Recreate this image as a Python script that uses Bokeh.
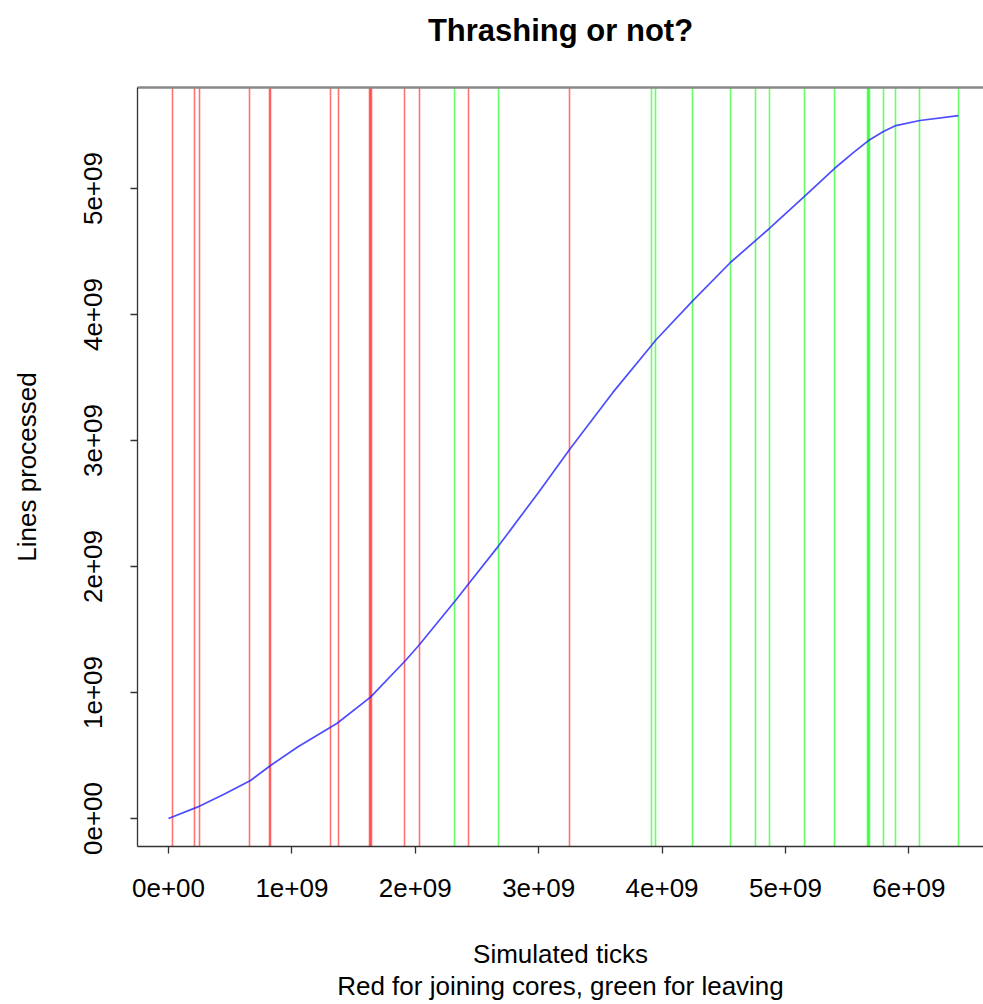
from bokeh.plotting import figure
from bokeh.models import Range1d, FixedTicker, LinearAxis
from bokeh.embed import file_html
from bokeh.resources import INLINE

# ---- data ----
curve_x = [0.0, 0.233e9, 0.45e9, 0.665e9, 0.827e9, 1.05e9, 1.313e9, 1.367e9, 1.637e9, 1.921e9,
           2.028e9, 2.326e9, 2.434e9, 2.672e9, 3.0e9, 3.252e9, 3.6e9, 3.914e9, 3.946e9, 4.250e9,
           4.554e9, 4.757e9, 4.870e9, 5.154e9, 5.397e9, 5.55e9, 5.673e9, 5.794e9, 5.895e9,
           6.090e9, 6.402e9]
curve_y = [0.0, 0.090e9, 0.192e9, 0.302e9, 0.421e9, 0.570e9, 0.725e9, 0.756e9, 0.963e9, 1.254e9,
           1.373e9, 1.730e9, 1.865e9, 2.160e9, 2.590e9, 2.930e9, 3.380e9, 3.754e9, 3.794e9, 4.111e9,
           4.413e9, 4.587e9, 4.683e9, 4.937e9, 5.159e9, 5.285e9, 5.381e9, 5.452e9, 5.500e9,
           5.540e9, 5.579e9]

join_x = [0.030e9, 0.213e9, 0.254e9, 0.660e9, 0.815e9, 0.830e9, 1.313e9, 1.380e9,
          1.630e9, 1.637e9, 1.645e9, 1.912e9, 2.036e9, 2.434e9, 3.252e9]
leave_x = [2.318e9, 2.672e9, 3.914e9, 3.946e9, 4.250e9, 4.554e9, 4.757e9, 4.870e9,
           5.154e9, 5.399e9, 5.665e9, 5.673e9, 5.681e9, 5.794e9, 5.895e9, 6.090e9, 6.404e9]

x_ticks = [0.0, 1e9, 2e9, 3e9, 4e9, 5e9, 6e9]
x_tick_labels = ["0e+00", "1e+09", "2e+09", "3e+09", "4e+09", "5e+09", "6e+09"]
y_ticks = [0.0, 1e9, 2e9, 3e9, 4e9, 5e9]
y_tick_labels = ["0e+00", "1e+09", "2e+09", "3e+09", "4e+09", "5e+09"]

title_text = "Thrashing or not?"
x_label = "Simulated ticks"
x_sub_label = "Red for joining cores, green for leaving"
y_label = "Lines processed"

FONT = "Liberation Sans"

p = figure(width=983, height=1004, output_backend="svg", toolbar_location=None,
           x_range=Range1d(-0.2512e9, 6.605e9), y_range=Range1d(-0.2222e9, 5.802e9),
           min_border_left=137, min_border_right=0, min_border_top=87, min_border_bottom=158,
           title=title_text + "\n")
p.background_fill_color = "white"
p.border_fill_color = "white"
p.outline_line_color = None
p.xgrid.visible = False
p.ygrid.visible = False

p.vspan(x=join_x, line_color="#ff0000", line_alpha=0.55, line_width=1.6)
p.vspan(x=leave_x, line_color="#00ff00", line_alpha=0.6, line_width=1.6)
p.line(curve_x, curve_y, line_color="#2020ff", line_width=1.7, line_alpha=0.8)

p.title.align = "center"
p.title.text_font = FONT
p.title.text_font_size = "31px"
p.title.text_font_style = "bold"
p.title.text_color = "black"
p.title.standoff = 10
p.title.offset = 4

xa = p.xaxis[0]
xa.ticker = FixedTicker(ticks=x_ticks)
xa.major_label_overrides = {t: s for t, s in zip(x_ticks, x_tick_labels)}
xa.axis_label = x_label + "\n" + x_sub_label
xa.axis_label_standoff = 39
xa.axis_label_text_line_height = 1.07

ya = p.yaxis[0]
ya.ticker = FixedTicker(ticks=y_ticks)
ya.major_label_overrides = {t: s for t, s in zip(y_ticks, y_tick_labels)}
ya.major_label_orientation = "vertical"
ya.axis_label = y_label
ya.axis_label_standoff = 40

for ax in (xa, ya):
    ax.axis_line_color = "#333333"
    ax.axis_line_width = 1.3
    ax.major_tick_line_color = "#333333"
    ax.major_tick_line_width = 1.3
    ax.major_tick_out = 7
    ax.major_tick_in = 0
    ax.minor_tick_line_color = None
    ax.major_label_text_font = FONT
    ax.major_label_text_font_size = "26px"
    ax.major_label_text_color = "black"
    ax.axis_label_text_font = FONT
    ax.axis_label_text_font_size = "26px"
    ax.axis_label_text_font_style = "normal"
    ax.axis_label_text_color = "black"
xa.major_label_standoff = 25
ya.major_label_standoff = 28

top = LinearAxis(ticker=FixedTicker(ticks=[]), axis_line_color="#888888", axis_line_width=2.5,
                 major_tick_line_color=None, minor_tick_line_color=None,
                 major_label_text_font_size="0px")
p.add_layout(top, "above")

open("out.html", "w").write(file_html(p, INLINE))
